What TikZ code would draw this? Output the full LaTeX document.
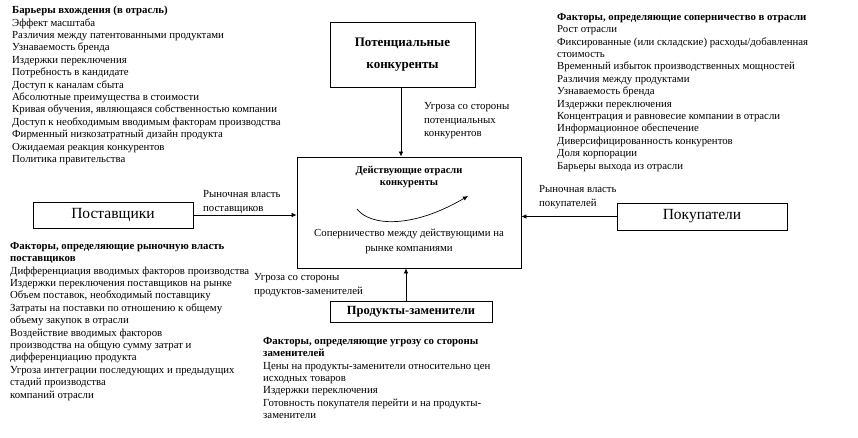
\documentclass[tikz,border=0pt]{standalone}
\usepackage{fontspec}
\setmainfont{Liberation Serif}
\usetikzlibrary{arrows.meta}
\begin{document}
\begin{tikzpicture}[x=1pt,y=1pt,
  listtext/.style={anchor=north west, align=left, inner sep=0pt, font=\fontsize{10.8}{12.4}\selectfont},
  labtext/.style={anchor=north west, align=left, inner sep=0pt, font=\fontsize{10.8}{13.8}\selectfont},
  box/.style={draw, line width=0.8pt, inner sep=0pt},
  arr/.style={line width=0.7pt, -{Latex[length=5pt,width=4.5pt]}}]
\useasboundingbox (0,0) rectangle (858,-437);
% boxes
\node[box, minimum width=145, minimum height=65, align=center, font=\fontsize{13}{22}\selectfont\bfseries] (pot) at (402.5,-54.5) {Потенциальные\\конкуренты};
\node[box, minimum width=224, minimum height=111] (cur) at (409,-212.5) {};
\node[box, minimum width=160, minimum height=26, font=\fontsize{15.5}{17}\selectfont] (sup) at (113,-215) {Поставщики};
\node[box, minimum width=170, minimum height=27, font=\fontsize{15.5}{17}\selectfont] (buy) at (702,-216.5) {Покупатели};
\node[box, minimum width=162, minimum height=21, font=\fontsize{12.5}{14}\selectfont\bfseries] (subs) at (411,-311.5) {Продукты-заменители};
% inside central box
\node[align=center, inner sep=0pt, font=\fontsize{10.5}{12.5}\selectfont\bfseries] (curtitle) at (409,-177) {Действующие отрасли\\конкуренты};
\node[align=center, inner sep=0pt, font=\fontsize{10.8}{14.5}\selectfont] (rival) at (409,-241.5) {Соперничество между действующими на\\рынке компаниями};
\coordinate (cs) at (357,-209);
\coordinate (ce) at (468,-196);
\draw[arr] (cs) .. controls (370,-226) and (412,-229) .. (ce);
% connectors
\draw[arr] (pot.south -| 401,0) -- (cur.north -| 401,0);
\draw[arr] (sup.east) -- (sup.east -| cur.west);
\draw[arr] (buy.west) -- (buy.west -| cur.east);
\draw[arr] (subs.north -| 406,0) -- (cur.south -| 406,0);
% connector labels
\node[labtext] (lpot) at (424,-102) {Угроза со стороны\\потенциальных\\конкурентов};
\node[labtext] (lsup) at (203,-190.5) {Рыночная власть\\поставщиков};
\node[labtext] (lbuy) at (539,-185.5) {Рыночная власть\\покупателей};
\node[labtext] (lsubs) at (254,-273) {Угроза со стороны\\продуктов-заменителей};
% lists
\node[listtext] (barriers) at (12,-6) {\textbf{Барьеры вхождения (в отрасль)}\\
Эффект масштаба\\
Различия между патентованными продуктами\\
Узнаваемость бренда\\
Издержки переключения\\
Потребность в кандидате\\
Доступ к каналам сбыта\\
Абсолютные преимущества в стоимости\\
Кривая обучения, являющаяся собственностью компании\\
Доступ к необходимым вводимым факторам производства\\
Фирменный низкозатратный дизайн продукта\\
Ожидаемая реакция конкурентов\\
Политика правительства};
\node[listtext] (rivalry) at (557,-13) {\textbf{Факторы, определяющие соперничество в отрасли}\\
Рост отрасли\\
Фиксированные (или складские) расходы/добавленная\\
стоимость\\
Временный избыток производственных мощностей\\
Различия между продуктами\\
Узнаваемость бренда\\
Издержки переключения\\
Концентрация и равновесие компании в отрасли\\
Информационное обеспечение\\
Диверсифицированность конкурентов\\
Доля корпорации\\
Барьеры выхода из отрасли};
\node[listtext] (supf) at (10,-242) {\textbf{Факторы, определяющие рыночную власть}\\
\textbf{поставщиков}\\
Дифференциация вводимых факторов производства\\
Издержки переключения поставщиков на рынке\\
Объем поставок, необходимый поставщику\\
Затраты на поставки по отношению к общему\\
объему закупок в отрасли\\
Воздействие вводимых факторов\\
производства на общую сумму затрат и\\
дифференциацию продукта\\
Угроза интеграции последующих и предыдущих\\
стадий производства\\
компаний отрасли};
\node[listtext] (subf) at (263,-337) {\textbf{Факторы, определяющие угрозу со стороны}\\
\textbf{заменителей}\\
Цены на продукты-заменители относительно цен\\
исходных товаров\\
Издержки переключения\\
Готовность покупателя перейти и на продукты-\\
заменители};
\end{tikzpicture}
\end{document}
